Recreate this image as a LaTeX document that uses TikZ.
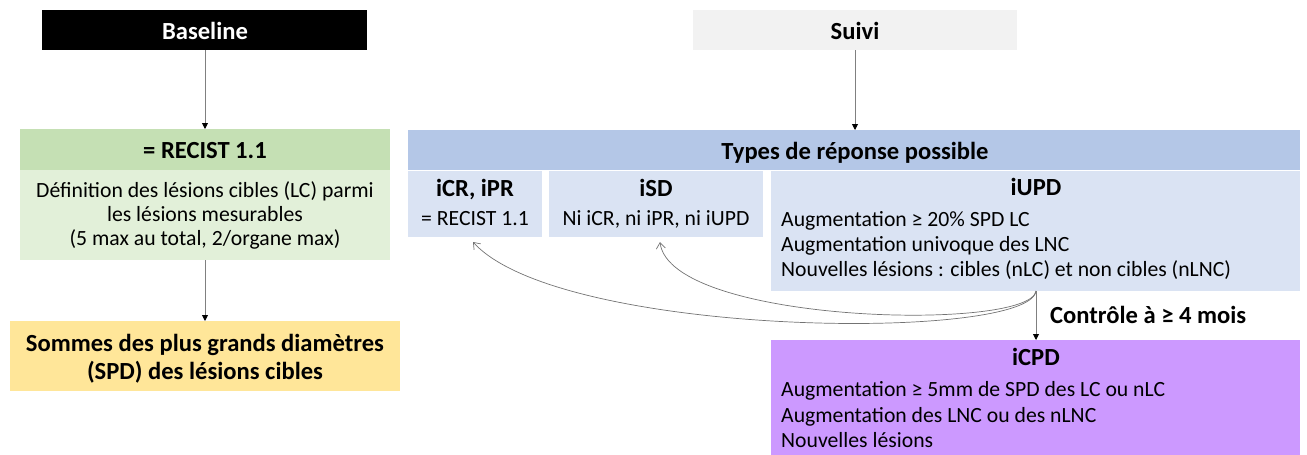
\documentclass[tikz,border=0pt]{standalone}
\usepackage{fontspec}
\setmainfont{Carlito}
\usetikzlibrary{arrows.meta}
\definecolor{cgreenh}{HTML}{C5E0B4}
\definecolor{cgreenb}{HTML}{E2F0D9}
\definecolor{cyellow}{HTML}{FFE699}
\definecolor{cgray}{HTML}{F2F2F2}
\definecolor{cblueh}{HTML}{B4C7E7}
\definecolor{cblueb}{HTML}{DAE3F3}
\definecolor{cpurple}{HTML}{CC99FF}
\definecolor{cline}{HTML}{808080}
\begin{document}
\begin{tikzpicture}[x=1pt,y=-1pt,
  box/.style={inner sep=0pt, outer sep=0pt, anchor=north west, draw=none},
  hd/.style={inner sep=0pt, anchor=base, font=\fontsize{24.6}{28}\selectfont\bfseries},
  bd/.style={inner sep=0pt, anchor=base, font=\fontsize{21.7}{25}\selectfont},
  bdl/.style={bd, anchor=base west},
  varrow/.style={draw=cline, line width=0.9pt, -{Triangle[length=6pt,width=6pt,color=black]}},
  carrow/.style={draw=cline!90!black, line width=0.7pt, -{Straight Barb[length=6pt,width=9pt]}}
]
\useasboundingbox (0,0) rectangle (1307,455);
% left column
\node[box, fill=black, minimum width=325pt, minimum height=40pt] (bl) at (42,10) {};
\node[hd, text=white] (tbl) at (205,39) {Baseline};
\node[box, fill=cgreenh, minimum width=370pt, minimum height=41pt] (rh) at (20,129) {};
\node[hd] (trh) at (205,158) {= RECIST 1.1};
\node[box, fill=cgreenb, minimum width=370pt, minimum height=90pt] (rb) at (20,170) {};
\node[bd] (trb1) at (205,197) {Définition des lésions cibles (LC) parmi};
\node[bd] (trb2) at (205,221) {les lésions mesurables};
\node[bd] (trb3) at (205,245) {(5 max au total, 2/organe max)};
\node[box, fill=cyellow, minimum width=390pt, minimum height=70pt] (spd) at (10,321) {};
\node[hd] (tspd1) at (205,351) {Sommes des plus grands diamètres};
\node[hd] (tspd2) at (205,379) {(SPD) des lésions cibles};
% right part
\node[box, fill=cgray, minimum width=324pt, minimum height=40pt] (sv) at (693,10) {};
\node[hd] (tsv) at (855,39) {Suivi};
\node[box, fill=cblueh, minimum width=892pt, minimum height=40pt] (th) at (408,130) {};
\node[hd] (tth) at (855,159) {Types de réponse possible};
\node[box, fill=cblueb, minimum width=134pt, minimum height=66pt] (cr) at (408,171) {};
\node[hd] (tcr1) at (475,196) {iCR, iPR};
\node[bd] (tcr2) at (475,225) {= RECIST 1.1};
\node[box, fill=cblueb, minimum width=214pt, minimum height=66pt] (sd) at (549,171) {};
\node[hd] (tsd1) at (656,196) {iSD};
\node[bd] (tsd2) at (656,225) {Ni iCR, ni iPR, ni iUPD};
\node[box, fill=cblueb, minimum width=529pt, minimum height=120pt] (up) at (771,171) {};
\node[hd] (tup) at (1036,195) {iUPD};
\node[bdl] (tup1) at (781,226) {Augmentation ≥ 20\% SPD LC};
\node[bdl] (tup2) at (781,251) {Augmentation univoque des LNC};
\node[bdl] (tup3) at (781,276) {Nouvelles lésions : cibles (nLC) et non cibles (nLNC)};
\node[box, fill=cpurple, minimum width=529pt, minimum height=115pt] (cp) at (771,340) {};
\node[hd] (tcp) at (1036,365) {iCPD};
\node[bdl] (tcp1) at (781,396) {Augmentation ≥ 5mm de SPD des LC ou nLC};
\node[bdl] (tcp2) at (781,422) {Augmentation des LNC ou des nLNC};
\node[bdl] (tcp3) at (781,447) {Nouvelles lésions};
\node[hd, anchor=base west] (tctl) at (1050,323) {Contrôle à ≥ 4 mois};
% connectors
\draw[varrow] (bl.south -| tbl) -- (rh.north -| tbl);
\draw[varrow] (rb.south -| tbl) -- (spd.north -| tbl);
\draw[varrow] (sv.south -| tsv) -- (th.north -| tsv);
\coordinate (o) at (1036,291);
\coordinate (ecr) at (473,242);
\coordinate (esd) at (660,242);
\draw[varrow] (o) -- (o |- cp.north);
\draw[carrow] (o) .. controls (1030,342) and (560,338) .. (ecr);
\draw[carrow] (o) .. controls (1030,332) and (670,324) .. (esd);
\end{tikzpicture}
\end{document}
